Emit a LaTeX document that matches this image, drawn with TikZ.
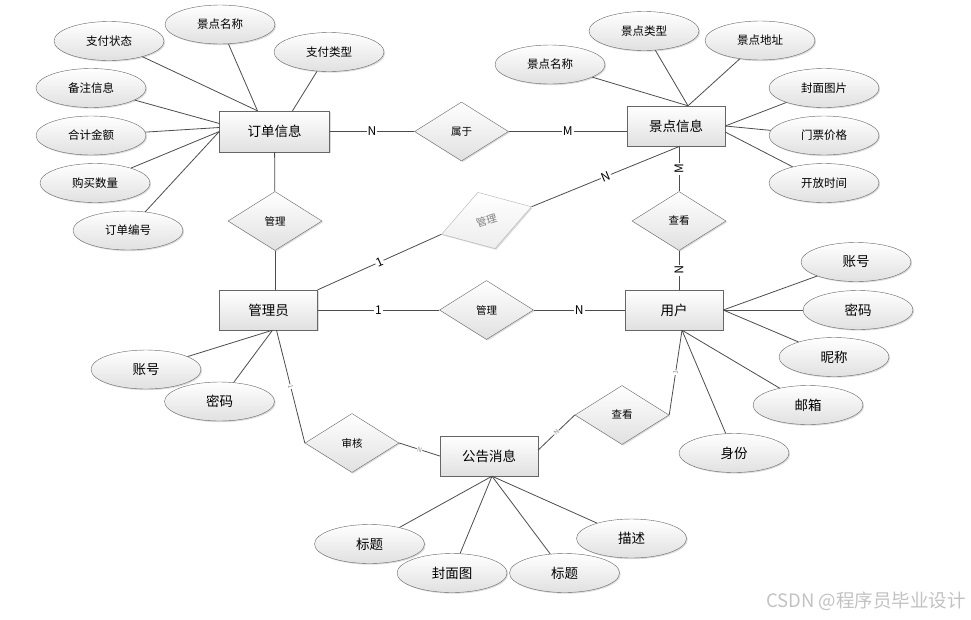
\documentclass[tikz,border=0pt]{standalone}
\usepackage{fontspec}
\usepackage{tikz}
\usetikzlibrary{
    shapes.geometric,
    shadows,
    calc,
    positioning
}
\newfontfamily\cjk{Noto Sans CJK SC}

\tikzset{
    softshadow/.style={drop shadow={shadow xshift=1.2pt, shadow yshift=-1.2pt, fill=black!30, opacity=0.45}},
    entity/.style={rectangle, draw=black!60, top color=white, bottom color=black!12, minimum width=98pt, minimum height=40pt, inner sep=0pt, font=\cjk\fontsize{13.5}{14}\selectfont, softshadow},
    relation/.style={diamond, draw=black!60, top color=white, bottom color=black!12, minimum width=94pt, minimum height=59pt, inner sep=0pt, font=\cjk\fontsize{10.5}{11}\selectfont, softshadow},
    attr/.style={ellipse, draw=black!60, top color=white, bottom color=black!12, minimum width=110pt, minimum height=39pt, inner sep=0pt, font=\cjk\fontsize{11.5}{12}\selectfont, softshadow},
    attrbig/.style={attr, font=\cjk\fontsize{13.5}{14}\selectfont},
    link/.style={draw=black!70, line width=0.8pt},
    card/.style={fill=white, inner sep=1pt, font=\cjk\fontsize{12}{12}\selectfont},
    cardsmall/.style={fill=white, inner sep=0.5pt, text=black!45, font=\cjk\fontsize{6.5}{7}\selectfont}
}

\begin{document}
\begin{tikzpicture}[x=1pt, y=-1pt]
    \useasboundingbox (0,0) rectangle (971,619);

    % entities
    \node[entity, minimum width=110pt, minimum height=41pt] (ddxx) at (274.5,131.5) {订单信息};
    \node[entity] (jdxx) at (676,126) {景点信息};
    \node[entity] (gly) at (268.5,310) {管理员};
    \node[entity] (yh) at (674,310) {用户};
    \node[entity] (ggxx) at (489,456) {公告消息};

    % relations
    \node[relation] (sy) at (461.5,131.5) {属于};
    \node[relation] (glA) at (275,221) {管理};
    \node[relation, rotate=17, draw=black!30, text=black!50, bottom color=black!7] (glB) at (486.5,220.5) {管理};
    \node[relation] (glC) at (486.5,310) {管理};
    \node[relation] (ckA) at (679,221) {查看};
    \node[relation] (ckB) at (622,415) {查看};
    \node[relation] (sh) at (352,443) {审核};

    % order attributes
    \node[attr] (zfzt) at (109,41) {支付状态};
    \node[attr] (jdmcA) at (220,24.5) {景点名称};
    \node[attr] (zflx) at (329,52) {支付类型};
    \node[attr] (bzxx) at (91,88) {备注信息};
    \node[attr] (hjje) at (91,135.5) {合计金额};
    \node[attr] (gmsl) at (95,183) {购买数量};
    \node[attr] (ddbh) at (128,230.5) {订单编号};

    % scenic spot attributes
    \node[attr] (jdmcB) at (550,64.5) {景点名称};
    \node[attr] (jdlx) at (644,31) {景点类型};
    \node[attr] (jddz) at (760,40.5) {景点地址};
    \node[attr] (fmtp) at (824,88) {封面图片};
    \node[attr] (mpjg) at (824,135.5) {门票价格};
    \node[attr] (kfsj) at (824,183) {开放时间};

    % admin and user attributes
    \node[attrbig] (zhA) at (146,369.5) {账号};
    \node[attrbig] (mmA) at (219.5,401.5) {密码};
    \node[attrbig] (zhB) at (856,262) {账号};
    \node[attrbig] (mmB) at (858,310) {密码};
    \node[attrbig] (nc) at (834,357) {昵称};
    \node[attrbig] (yx) at (808,405) {邮箱};
    \node[attrbig] (sf) at (734,453) {身份};

    % notice attributes
    \node[attrbig] (btA) at (369.5,544) {标题};
    \node[attrbig] (fmt) at (452,573) {封面图};
    \node[attrbig] (btB) at (564.5,573) {标题};
    \node[attrbig] (ms) at (631.5,538.5) {描述};

    \draw[link]
    ([xshift=-17pt]ddxx.north) edge (zfzt) edge (jdmcA)
    ([xshift=18pt]ddxx.north) edge (zflx)
    ([yshift=8pt]ddxx.west) edge (bzxx)
    ([yshift=4pt]ddxx.west) edge (hjje)
    (ddxx.west) edge (gmsl) edge (ddbh)
    ([xshift=12pt]jdxx.north) edge (jdmcB) edge (jdlx) edge (jddz)
    (jdxx.east) edge (fmtp) edge (mpjg)
    ([yshift=-6pt]jdxx.east) edge (kfsj)
    ([xshift=4pt]gly.south) edge (zhA) edge (mmA)
    (yh.east) edge (zhB) edge (mmB) edge (nc)
    ([xshift=8pt]yh.south) edge (yx) edge (sf)
    ([xshift=3pt]ggxx.south) edge (btA) edge (fmt) edge (btB) edge (ms);

    \draw[link]
    (ddxx) edge node[card]{N} (sy)
    (sy.east) edge node[card]{M} (sy.east -| jdxx.west)
    (ddxx) edge (glA)
    (glA.south) edge (glA.south |- gly.north)
    (gly.north east) edge node[card, sloped]{1} (glB.west)
    (glB.east) edge node[card, sloped]{N} ([xshift=4pt]jdxx.south)
    (ckA.north) edge node[card, sloped]{M} (ckA.north |- jdxx.south)
    (ckA.south) edge node[card, sloped]{N} (ckA.south |- yh.north)
    (gly) edge node[card]{1} (glC)
    (glC) edge node[card]{N} (yh)
    ([xshift=8pt]gly.south) edge node[cardsmall, sloped]{1} (sh.west)
    (sh.east) edge node[cardsmall, sloped]{N} (ggxx.west)
    ([yshift=6pt]ggxx.east) edge node[cardsmall, sloped]{N} (ckB.west)
    (ckB.east) edge node[cardsmall, sloped]{1} ([xshift=8pt]yh.south);

    \node[font=\cjk\fontsize{18.5}{19}\selectfont, text=black!24] (wm) at (866,601) {CSDN @程序员毕业设计};
\end{tikzpicture}
\end{document}
